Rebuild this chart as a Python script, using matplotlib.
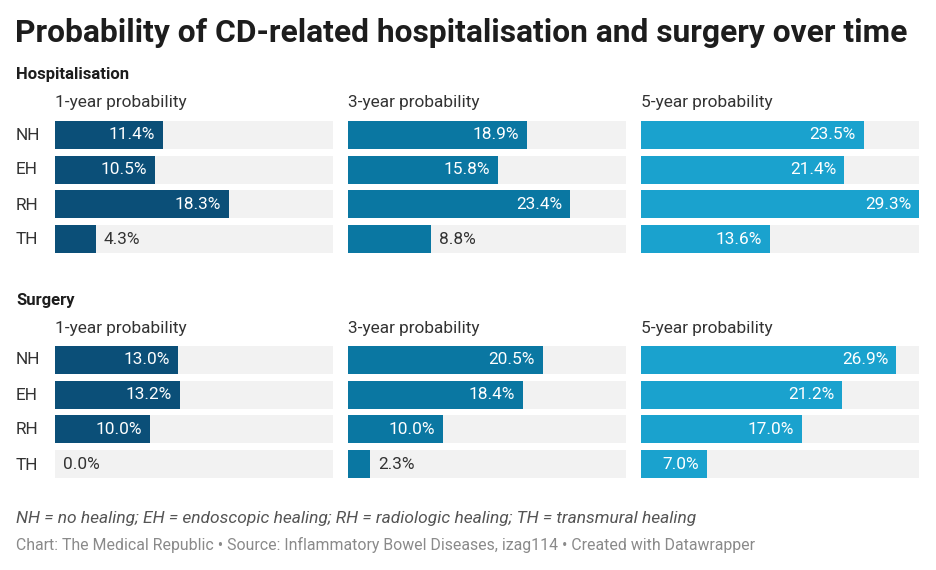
import matplotlib
matplotlib.use('Agg')
import matplotlib.pyplot as plt

plt.rcParams['font.family'] = ['Roboto', 'DejaVu Sans']

# Donnees
rangs = ['NH', 'EH', 'RH', 'TH']
periodes = ['1-year probability', '3-year probability', '5-year probability']
sections = ['Hospitalisation', 'Surgery']

hosp_1an = [11.4, 10.5, 18.3, 4.3]
hosp_3ans = [18.9, 15.8, 23.4, 8.8]
hosp_5ans = [23.5, 21.4, 29.3, 13.6]
chir_1an = [13.0, 13.2, 10.0, 0.0]
chir_3ans = [20.5, 18.4, 10.0, 2.3]
chir_5ans = [26.9, 21.2, 17.0, 7.0]

valeurs = {'Hospitalisation': [hosp_1an, hosp_3ans, hosp_5ans],
           'Surgery': [chir_1an, chir_3ans, chir_5ans]}
# etiquettes placees hors de la barre (comme dans l'original)
hors_barre = {('Hospitalisation', 0, 3), ('Hospitalisation', 1, 3),
              ('Surgery', 0, 3), ('Surgery', 1, 3)}

couleurs = ['#0b4f78', '#0a77a2', '#1aa2ce']
gris = '#f2f2f2'
vmax = max(max(v) for s in valeurs.values() for v in s)

W, H = 936, 570
fig = plt.figure(figsize=(W / 100, H / 100), dpi=100)

def px(x, y):
    return x / W, 1 - y / H

fig.text(*px(15, 33), 'Probability of CD-related hospitalisation and surgery over time',
         fontsize=22.9, fontweight='bold', color='#1d1d1d', va='center', ha='left')

panneaux_x = [55, 348, 641]
largeur = 278
haut_section = {'Hospitalisation': 75, 'Surgery': 300}
taille = 12.4

for section in sections:
    y0 = haut_section[section]
    fig.text(*px(16, y0), section, fontsize=12, fontweight='bold', color='#1d1d1d',
             va='center', ha='left')
    top = y0 + 46
    bottom = top + 132
    for i, x0 in enumerate(panneaux_x):
        fig.text(*px(x0, y0 + 28), periodes[i], fontsize=taille, color='#333333',
                 va='center', ha='left')
        ax = fig.add_axes([x0 / W, 1 - bottom / H, largeur / W, (bottom - top) / H])
        vals = valeurs[section][i]
        ypos = range(len(rangs))
        ax.barh(ypos, [vmax] * len(rangs), height=0.8, color=gris)
        ax.barh(ypos, vals, height=0.8, color=couleurs[i])
        for j, v in enumerate(vals):
            lab = f'{v:.1f}%'
            if (section, i, j) in hors_barre:
                ax.annotate(lab, (v, j), xytext=(8, 0), textcoords='offset pixels',
                            ha='left', va='center', fontsize=taille, color='#333333')
            else:
                ax.annotate(lab, (v, j), xytext=(-8, 0), textcoords='offset pixels',
                            ha='right', va='center', fontsize=taille, color='white')
        ax.set_xlim(0, vmax)
        ax.set_ylim(3.4, -0.4)
        ax.axis('off')
    for j, r in enumerate(rangs):
        fig.text(*px(16, top + 14 + 35 * j), r, fontsize=taille, color='#333333',
                 va='center', ha='left')

fig.text(*px(16, 518), 'NH = no healing; EH = endoscopic healing; RH = radiologic healing; TH = transmural healing',
         fontsize=12.5, style='italic', color='#555555', va='center', ha='left')
fig.text(*px(16, 545), 'Chart: The Medical Republic \u2022 Source: Inflammatory Bowel Diseases, izag114 \u2022 Created with Datawrapper',
         fontsize=11.4, color='#8a8a8a', va='center', ha='left')

plt.savefig('out.png', dpi=100)
